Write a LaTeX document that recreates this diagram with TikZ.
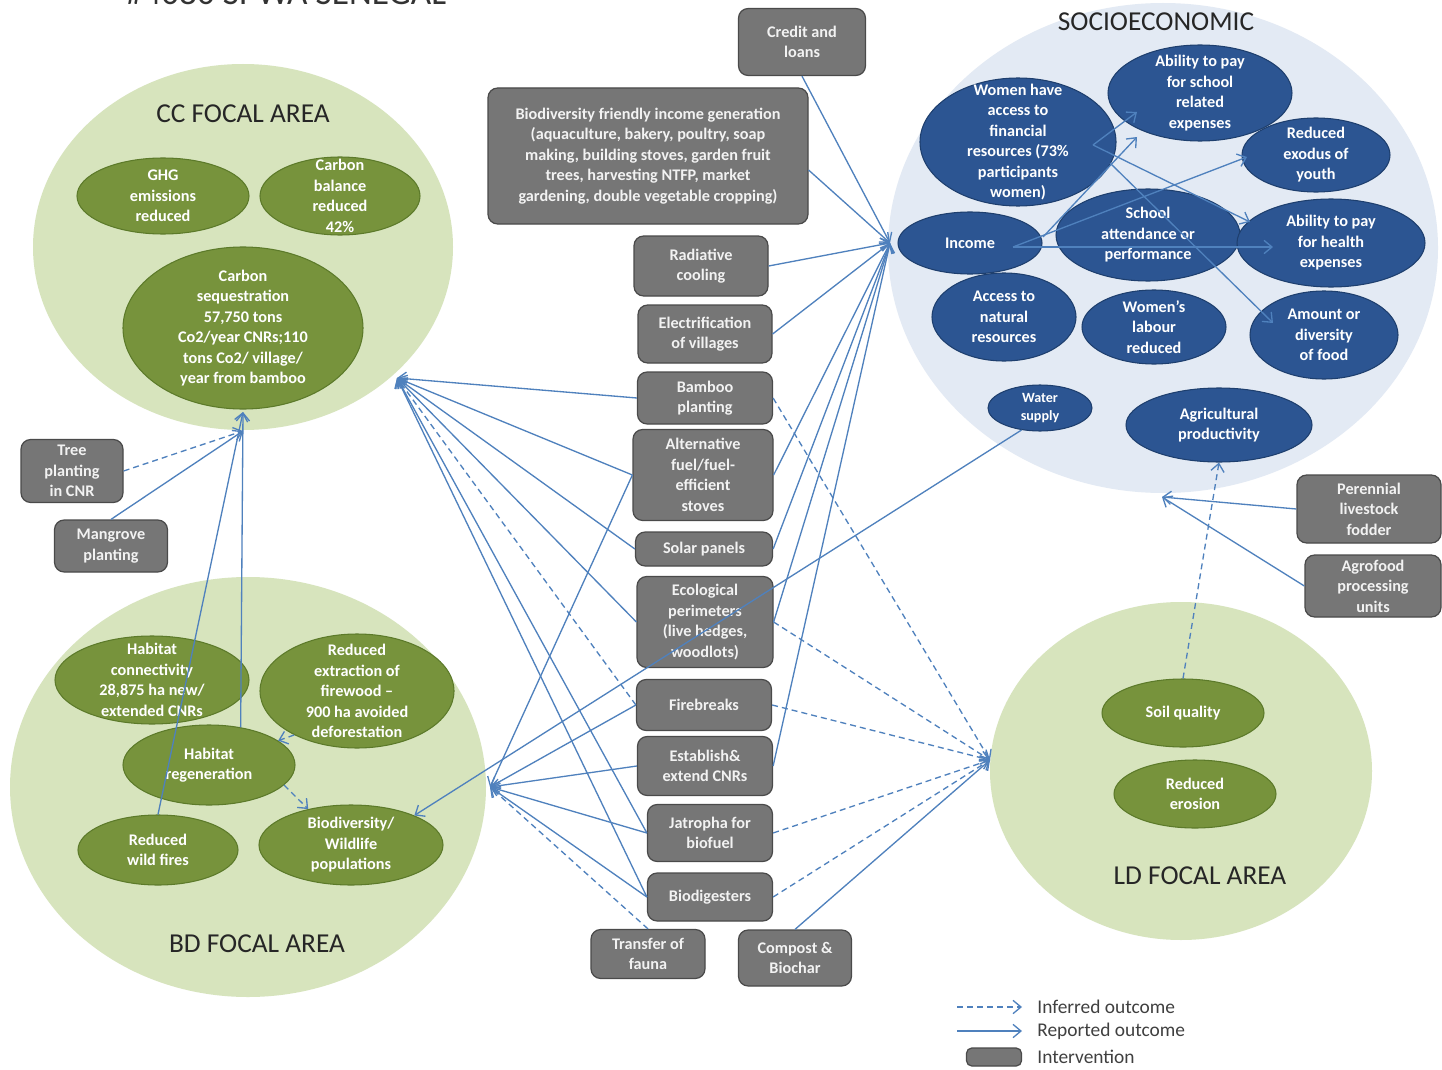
\documentclass[tikz,border=0pt]{standalone}
\usepackage{fontspec}
\setmainfont{Carlito}
\usetikzlibrary{shapes.geometric,arrows.meta}
\definecolor{lgreen}{HTML}{D7E4BD}
\definecolor{ogreen}{HTML}{77933C}
\definecolor{ogreenD}{HTML}{5C7A2A}
\definecolor{sbg}{HTML}{E3EAF4}
\definecolor{sblue}{HTML}{2C5592}
\definecolor{sblueD}{HTML}{1E3F6E}
\definecolor{igray}{HTML}{767676}
\definecolor{igrayD}{HTML}{4A4A4A}
\definecolor{arr}{HTML}{4F81BD}
\newcommand\nfont{\bfseries\fontsize{9.2}{11.6}\selectfont}
% oval outcome: [text options]{style}{name}{centre}{half width}{half height}{text}
\newcommand\ovalnode[7][]{%
  \node[#2, minimum width={2*#5*0.5669pt}, minimum height={2*#6*0.5669pt}] (#3) at (#4) {};
  \node[otext,#1] (#3-t) at (#3.center) {#7};}
\begin{document}
\begin{tikzpicture}[x=0.5669pt, y=-0.5669pt,
  area/.style={ellipse, fill=#1, inner sep=0pt},
  atitle/.style={font=\fontsize{15.5}{18}\selectfont, text=black!85},
  gell/.style={ellipse, fill=ogreen, draw=ogreenD, line width=0.6pt, inner sep=0pt},
  bell/.style={ellipse, fill=sblue, draw=sblueD, line width=0.6pt, inner sep=0pt},
  otext/.style={align=center, text=white, font=\nfont, inner sep=0pt},
  ibox/.style 2 args={rectangle, rounded corners=5.5pt, fill=igray, draw=igrayD,
    line width=0.7pt, minimum width={#1*0.5669pt}, minimum height={#2*0.5669pt},
    inner sep=1pt, text=white!95!black, font=\nfont, align=center},
  rep/.style={draw=arr, line width=0.75pt, -{Straight Barb[length=4.5pt,width=7.5pt]}},
  inf/.style={rep, dash pattern=on 3.4pt off 2.3pt},
  ltext/.style={anchor=west, font=\fontsize{11}{13}\selectfont, text=black!75, inner sep=0pt}]

\useasboundingbox (0,0) rectangle (1442,1070);
\clip (0,0) rectangle (1442,1070);
\fill[white] (0,0) rectangle (1442,1070);

% heading, cut by the top edge
\node[anchor=base, font=\fontsize{20}{24}\selectfont, text=black!80, inner sep=0pt] (ttl) at (286,5) {\#4080 SPWA SENEGAL};

% focal areas
\node[area=lgreen, minimum width={420*0.5669pt}, minimum height={366*0.5669pt}] (ccA) at (243,247) {};
\node[area=lgreen, minimum width={476*0.5669pt}, minimum height={420*0.5669pt}] (bdA) at (248,787) {};
\node[area=sbg, minimum width={550*0.5669pt}, minimum height={490*0.5669pt}] (seA) at (1163,248) {};
\node[area=lgreen, minimum width={382*0.5669pt}, minimum height={338*0.5669pt}] (ldA) at (1181,771) {};

\node[atitle] (ccT) at (243,114) {CC FOCAL AREA};
\node[atitle] (bdT) at (257,944) {BD FOCAL AREA};
\node[atitle] (seT) at (1156,22) {SOCIOECONOMIC};
\node[atitle] (ldT) at (1200,876) {LD FOCAL AREA};

% climate change outcomes
\ovalnode{gell}{ghg}{163,196}{86}{38}{GHG\\emissions\\reduced}
\ovalnode{gell}{cbal}{340,196}{80}{39}{Carbon\\balance\\reduced\\42\%}
\ovalnode{gell}{cseq}{243,328}{120}{81}{Carbon\\sequestration\\57,750 tons\\Co2/year CNRs;110\\tons Co2/ village/\\year from bamboo}

% biodiversity outcomes
\ovalnode{gell}{hcon}{152,680}{97}{44}{Habitat\\connectivity\\28,875 ha new/\\extended CNRs}
\ovalnode{gell}{rext}{357,691}{97}{57}{Reduced\\extraction of\\firewood –\\900 ha avoided\\deforestation}
\ovalnode{gell}{hreg}{209,765}{86}{40}{Habitat\\regeneration}
\ovalnode{gell}{rwf}{158,850}{80}{35}{Reduced\\wild fires}
\ovalnode{gell}{biow}{351,845}{92}{40}{Biodiversity/\\Wildlife\\populations}

% socioeconomic outcomes
\ovalnode{bell}{wom}{1018,142}{98}{64}{Women have\\access to\\financial\\resources (73\%\\participants\\women)}
\ovalnode{bell}{apsch}{1200,93}{92}{48}{Ability to pay\\for school\\related\\expenses}
\ovalnode{bell}{rexo}{1316,155}{74}{37}{Reduced\\exodus of\\youth}
\ovalnode{bell}{inc}{970,243}{72}{31}{Income}
\ovalnode{bell}{scha}{1148,235}{92}{46}{School\\attendance or\\performance}
\ovalnode{bell}{aphe}{1331,243}{94}{44}{Ability to pay\\for health\\expenses}
\ovalnode{bell}{anr}{1004,317}{72}{44}{Access to\\natural\\resources}
\ovalnode{bell}{wlab}{1154,327}{72}{37}{Women’s\\labour\\reduced}
\ovalnode{bell}{afood}{1324,335}{74}{44}{Amount or\\diversity\\of food}
\ovalnode[font=\bfseries\fontsize{8}{10.5}\selectfont]{bell}{wsup}{1040,408}{52}{23}{Water\\supply}
\ovalnode{bell}{agpr}{1219,425}{93}{37}{Agricultural\\productivity}

% land degradation outcomes
\ovalnode{gell}{soil}{1183,713}{81}{34}{Soil quality}
\ovalnode{gell}{rero}{1195,794}{81}{34}{Reduced\\erosion}

% interventions
\node[ibox={127}{67}] (credit) at (802,42) {Credit and\\loans};
\node[ibox={320}{136}] (bfig) at (648,156) {Biodiversity friendly income generation\\(aquaculture, bakery,  poultry,  soap\\making, building stoves, garden fruit\\trees, harvesting NTFP, market\\gardening, double vegetable cropping)};
\node[ibox={134}{60}] (radc) at (701,266) {Radiative\\cooling};
\node[ibox={134}{58}] (elec) at (705,334) {Electrification\\of villages};
\node[ibox={135}{52}] (bamb) at (705,398) {Bamboo\\planting};
\node[ibox={140}{91}] (altf) at (703,475) {Alternative\\fuel/fuel-\\efficient\\stoves};
\node[ibox={137}{34}] (solar) at (704,549) {Solar panels};
\node[ibox={136}{91}] (ecop) at (705,622) {Ecological\\perimeters\\(live hedges,\\woodlots)};
\node[ibox={135}{51}] (fireb) at (704,705) {Firebreaks};
\node[ibox={135}{59}] (cnrs) at (705,766) {Establish\&\\extend CNRs};
\node[ibox={125}{57}] (jatr) at (710,833) {Jatropha for\\biofuel};
\node[ibox={125}{48}] (biod) at (710,897) {Biodigesters};
\node[ibox={114}{49}] (fauna) at (648,954) {Transfer of\\fauna};
\node[ibox={113}{56}] (comp) at (795,958) {Compost \&\\Biochar};
\node[ibox={102}{63}] (tree) at (72,471) {Tree\\planting\\in CNR};
\node[ibox={113}{52}] (mang) at (111,546) {Mangrove\\planting};
\node[ibox={144}{68}] (peren) at (1369,509) {Perennial\\livestock\\fodder};
\node[ibox={136}{62}] (agro) at (1373,586) {Agrofood\\processing\\units};

% points where the outcome arrows meet
\coordinate (cT) at (397,378);
\coordinate (bT) at (490,787);
\coordinate (sT) at (890,243);
\coordinate (lT) at (990,760);
\coordinate (cs1) at (243,412);
\coordinate (cs2) at (243,431);
\coordinate (seB) at (1162,497);

% into the socioeconomic area
\draw[rep] (credit.south) -- (sT);
\draw[rep] (bfig.-5) -- (sT);
\draw[rep] (radc.east) -- (sT);
\draw[rep] (elec.east) -- (sT);
\draw[rep] (altf.east) -- (sT);
\draw[rep] (solar.east) -- (sT);
\draw[rep] (ecop.east) -- (sT);
\draw[rep] (cnrs.east) -- (sT);

% into the climate change area
\draw[rep] (bamb.west) -- (cT);
\draw[rep] (altf.west) -- (cT);
\draw[rep] (solar.west) -- (cT);
\draw[rep] (ecop.west) -- (cT);
\draw[inf] (fireb.west) -- (cT);
\draw[rep] (jatr.west) -- (cT);
\draw[rep] (biod.west) -- (cT);

% into the biodiversity area
\draw[rep] (altf.west) -- (bT);
\draw[rep] (fireb.west) -- (bT);
\draw[rep] (cnrs.west) -- (bT);
\draw[rep] (jatr.west) -- (bT);
\draw[rep] (biod.west) -- (bT);
\draw[inf] (fauna.north) -- (bT);

% into the land degradation area
\draw[inf] (bamb.east) -- (lT);
\draw[inf] (ecop.east) -- (lT);
\draw[inf] (fireb.east) -- (lT);
\draw[inf] (jatr.east) -- (lT);
\draw[inf] (biod.east) -- (lT);
\draw[rep] (comp.north) -- (lT);

\draw[rep] (wsup.230) -- (biow.25);

% links to carbon sequestration
\draw[inf] (tree.east) -- (cs2);
\draw[rep] (mang.north) -- (cs2);
\draw[rep] (rwf.north) -- (cs1);
\draw[rep] (hreg.50) -- (cs1);

% links inside the biodiversity area
\draw[inf] (rext.215) -- (hreg);
\draw[inf] (hreg.-15) -- (biow.140);

% links inside the socioeconomic area
\draw[rep] ([shift={(43,4)}]inc.center) -- ([shift={(-58,4)}]aphe.center);
\draw[rep] ([shift={(43,4)}]inc.center) -- ([shift={(-69,2)}]rexo.center);
\draw[rep] ([shift={(73,-6)}]inc.center) -- ([shift={(-63,44)}]apsch.center);
\draw[rep] ([shift={(75,3)}]wom.center) -- ([shift={(-63,19)}]apsch.center);
\draw[rep] ([shift={(75,3)}]wom.center) -- ([shift={(-81,-21)}]aphe.center);
\draw[rep] ([shift={(92,21)}]wom.center) -- ([shift={(-51,-12)}]afood.center);

% links on the right
\draw[rep] (peren.west) -- (seB);
\draw[rep] (agro.west) -- (seB);
\draw[inf] (soil.north) -- (agpr.south);

% key
\coordinate (k1a) at (957,1007); \coordinate (k1b) at (1022,1007);
\coordinate (k2a) at (957,1031); \coordinate (k2b) at (1022,1031);
\draw[inf] (k1a) -- (k1b);
\draw[rep] (k2a) -- (k2b);
\node[ibox={55}{18}, rounded corners=3pt] (kbox) at (994,1057) {};
\node[ltext] (kt1) at (1037,1007) {Inferred outcome};
\node[ltext] (kt2) at (1037,1031) {Reported outcome};
\node[ltext] (kt3) at (1037,1057) {Intervention};
\end{tikzpicture}
\end{document}
